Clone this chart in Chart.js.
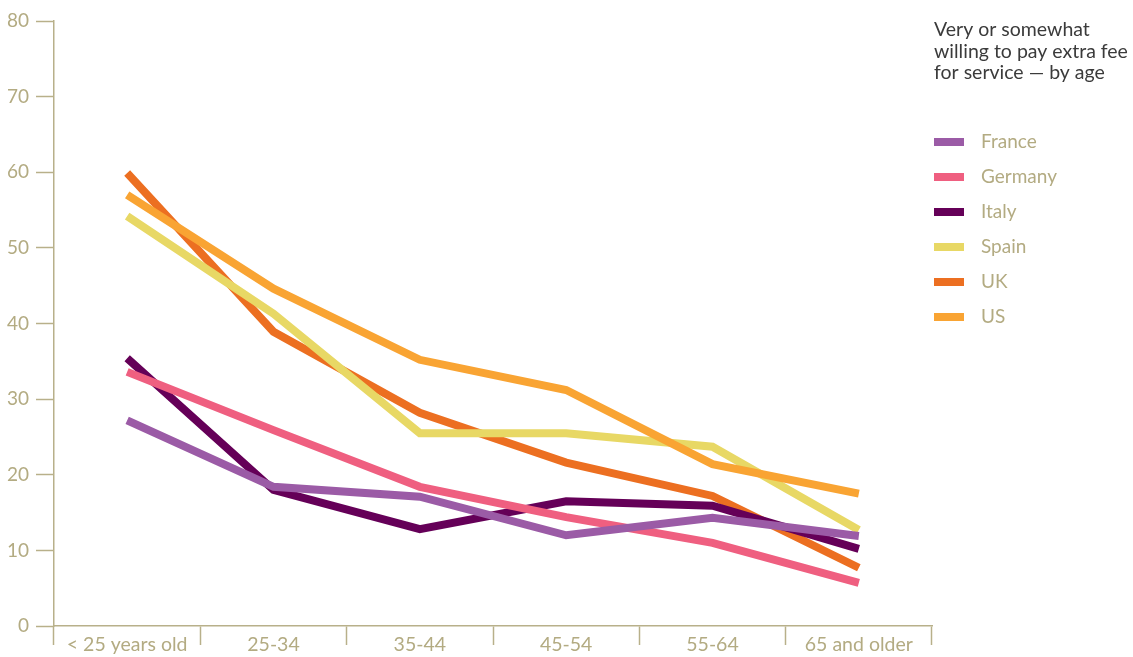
<!DOCTYPE html>
<html>
<head>
<meta charset="utf-8">
<script src="https://cdn.jsdelivr.net/npm/chart.js@4.4.1/dist/chart.umd.min.js"></script>
<style>
  html, body { margin: 0; padding: 0; background: #ffffff; }
  #wrap { width: 1133px; height: 657px; position: relative; }
</style>
</head>
<body>
<div id="wrap"><canvas id="chart" width="1133" height="657"></canvas></div>
<script>
// Age groups on the x axis
const ageGroups = ['< 25 years old', '25-34', '35-44', '45-54', '55-64', '65 and older'];

// Share (%) very or somewhat willing to pay an extra fee, per country
const france  = [27.2, 18.4, 17.1, 12.0, 14.3, 11.9];
const germany = [33.6, 25.9, 18.4, 14.4, 11.0, 5.7];
const italy   = [35.4, 18.0, 12.8, 16.5, 15.9, 10.2];
const spain   = [54.2, 41.3, 25.5, 25.5, 23.7, 12.7];
const uk      = [59.9, 38.9, 28.2, 21.6, 17.2, 7.7];
const us      = [57.0, 44.6, 35.2, 31.2, 21.4, 17.5];

const countryNames = ['France', 'Germany', 'Italy', 'Spain', 'UK', 'US'];
const yTicks = [0, 10, 20, 30, 40, 50, 60, 70, 80];

const legendTitle = ['Very or somewhat', 'willing to pay extra fee', 'for service \u2014 by age'];

const axisColor = '#b8b08a';
const labelColor = '#b3ab82';
const fontFamily = 'Lato, "Open Sans", sans-serif';

const seriesValues = [france, germany, italy, spain, uk, us];
const seriesColors = ['#9b5ba6', '#ef5f80', '#650058', '#e8d865', '#ec6f21', '#f9a433'];
const drawOrder = [1, 2, 3, 5, 6, 4];

const datasets = countryNames.map((name, i) => ({
  label: name,
  data: seriesValues[i],
  borderColor: seriesColors[i],
  backgroundColor: seriesColors[i],
  borderWidth: 8,
  borderCapStyle: 'butt',
  borderJoinStyle: 'miter',
  pointRadius: 0,
  pointHoverRadius: 0,
  tension: 0,
  fill: false,
  order: drawOrder[i]
}));

// Legend with a title block, drawn to the right of the plot
const sideLegend = {
  id: 'sideLegend',
  afterDraw(chart) {
    const ctx = chart.ctx;
    ctx.save();
    ctx.textBaseline = 'middle';
    ctx.textAlign = 'left';
    ctx.fillStyle = '#3b3b3b';
    ctx.font = '19.5px ' + fontFamily;
    legendTitle.forEach((line, i) => ctx.fillText(line, 934, 30 + i * 21.5));
    chart.data.datasets.forEach((ds, i) => {
      const y = 142 + i * 35;
      ctx.fillStyle = ds.borderColor;
      ctx.fillRect(934, y - 4, 30, 8);
      ctx.fillStyle = labelColor;
      ctx.font = '19px ' + fontFamily;
      ctx.fillText(ds.label, 981, y);
    });
    ctx.restore();
  }
};

new Chart(document.getElementById('chart'), {
  type: 'line',
  data: { labels: ageGroups, datasets },
  plugins: [sideLegend],
  options: {
    responsive: false,
    animation: false,
    layout: { padding: { top: 21, right: 201, left: 0, bottom: 0 } },
    plugins: { legend: { display: false }, tooltip: { enabled: false } },
    scales: {
      x: {
        offset: true,
        afterFit(scale) { scale.height = 31; },
        grid: {
          offset: true,
          drawOnChartArea: false,
          drawTicks: true,
          tickLength: 19,
          tickWidth: 1.5,
          tickColor: axisColor
        },
        border: { color: axisColor, width: 1.5 },
        ticks: {
          color: labelColor,
          font: { family: fontFamily, size: 19.5 },
          padding: -12,
          maxRotation: 0,
          autoSkip: false
        }
      },
      y: {
        min: 0,
        max: 80,
        afterFit(scale) { scale.width = 54; },
        afterBuildTicks(scale) { scale.ticks = yTicks.map(v => ({ value: v })); },
        grid: {
          drawOnChartArea: false,
          drawTicks: true,
          tickLength: 18,
          tickWidth: 1.5,
          tickColor: axisColor
        },
        border: { color: axisColor, width: 1.5 },
        ticks: {
          color: labelColor,
          font: { family: fontFamily, size: 19 },
          padding: 7
        }
      }
    }
  }
});
</script>
</body>
</html>
